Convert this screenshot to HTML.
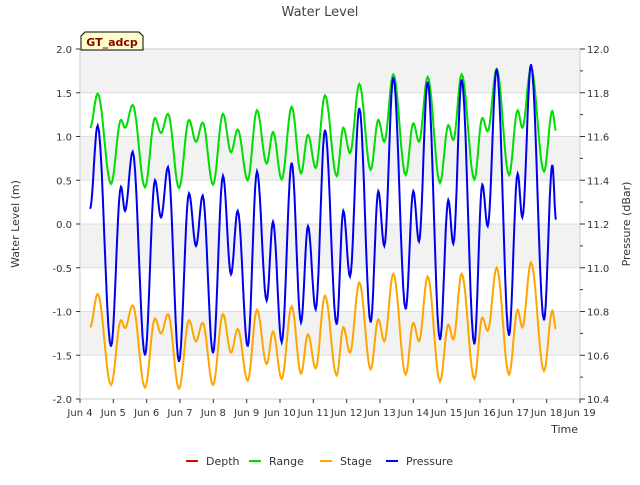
<!DOCTYPE html>
<html><head><meta charset="utf-8"><style>
body{margin:0;background:#fff;font-family:"Liberation Sans","DejaVu Sans",sans-serif}
svg text{font-family:"DejaVu Sans","Liberation Sans",sans-serif}
</style></head><body>
<svg id="chart" width="640" height="480" viewBox="0 0 640 480" xmlns="http://www.w3.org/2000/svg">
<rect x="0" y="0" width="640" height="480" fill="#fff"/>
<g id="bands"></g>
<g id="grid"></g>
<rect x="80" y="49" width="500" height="350" fill="none" stroke="#ccc"/>
<g id="axes"></g>
<g id="series"></g>
<text x="320" y="16" text-anchor="middle" font-size="13" fill="#444">Water Level</text>
<text x="19" y="224" text-anchor="middle" font-size="11" fill="#333" transform="rotate(-90 19 224)">Water Level (m)</text>
<text x="630" y="224" text-anchor="middle" font-size="11" fill="#333" transform="rotate(-90 630 224)">Pressure (dBar)</text>
<text x="578" y="433" text-anchor="end" font-size="11" fill="#333">Time</text>
<g>
<path d="M81 50 L81 36 L85 32 L139 32 L143 36 L143 50 Z" fill="#ffffcc" stroke="#000"/>
<text x="112" y="46" text-anchor="middle" font-size="11" font-weight="bold" fill="#8b0000">GT_adcp</text>
</g>
<g id="legend"></g>
</svg>
<script>
const times=[0.3,0.53,0.93,1.23,1.35,1.58,1.95,2.25,2.43,2.64,2.97,3.27,3.48,3.68,3.99,4.29,4.53,4.73,5.03,5.31,5.6,5.79,6.05,6.35,6.63,6.84,7.07,7.35,7.7,7.9,8.1,8.38,8.72,8.95,9.13,9.4,9.77,10.0,10.17,10.43,10.8,11.05,11.2,11.45,11.83,12.07,12.23,12.5,12.87,13.13,13.27,13.53,13.92,14.17,14.28];
const rangeVals=[1.1,1.49,0.46,1.19,1.1,1.36,0.42,1.21,1.04,1.26,0.41,1.19,0.94,1.16,0.45,1.26,0.82,1.08,0.5,1.3,0.69,1.05,0.51,1.34,0.58,1.02,0.64,1.47,0.55,1.1,0.81,1.6,0.62,1.19,0.94,1.71,0.56,1.15,0.94,1.68,0.47,1.13,0.96,1.71,0.51,1.21,1.06,1.77,0.56,1.3,1.1,1.78,0.6,1.29,1.07];
const stageVals=[-1.18,-0.8,-1.84,-1.1,-1.19,-0.93,-1.87,-1.08,-1.25,-1.03,-1.88,-1.1,-1.34,-1.13,-1.84,-1.03,-1.47,-1.2,-1.79,-0.98,-1.6,-1.23,-1.77,-0.94,-1.71,-1.26,-1.65,-0.82,-1.73,-1.18,-1.47,-0.67,-1.66,-1.09,-1.34,-0.57,-1.72,-1.13,-1.34,-0.6,-1.8,-1.15,-1.32,-0.57,-1.77,-1.07,-1.22,-0.5,-1.72,-0.98,-1.18,-0.44,-1.68,-0.99,-1.2];
const pressureVals=[11.27,11.65,10.64,11.37,11.26,11.53,10.6,11.4,11.23,11.46,10.57,11.34,11.1,11.33,10.61,11.42,10.97,11.26,10.64,11.44,10.85,11.21,10.66,11.48,10.75,11.19,10.81,11.63,10.74,11.26,10.96,11.73,10.75,11.35,11.1,11.87,10.81,11.35,11.12,11.85,10.67,11.31,11.11,11.86,10.65,11.38,11.19,11.91,10.69,11.43,11.23,11.93,10.76,11.47,11.22];
const leftTicks=[2.0,1.5,1.0,0.5,0.0,-0.5,-1.0,-1.5,-2.0];
const rightTicks=[12.0,11.8,11.6,11.4,11.2,11.0,10.8,10.6,10.4];
const xLabels=["Jun 4","Jun 5","Jun 6","Jun 7","Jun 8","Jun 9","Jun 10","Jun 11","Jun 12","Jun 13","Jun 14","Jun 15","Jun 16","Jun 17","Jun 18","Jun 19"];
const NS="http://www.w3.org/2000/svg";
const X0=80,X1=580,Y0=49,Y1=399;
const xs=d=>X0+d*(X1-X0)/15;
const yl=v=>Y0+(2-v)*(Y1-Y0)/4;
const yr=v=>Y0+(12-v)*(Y1-Y0)/1.6;
function mk(tag,attrs,parent){const e=document.createElementNS(NS,tag);for(const k in attrs)e.setAttribute(k,attrs[k]);parent.appendChild(e);return e;}
const bands=document.getElementById('bands'),grid=document.getElementById('grid'),axes=document.getElementById('axes');
for(let i=0;i<leftTicks.length-1;i+=2){
 const b=mk('rect',{x:X0,y:yl(leftTicks[i]),width:X1-X0,height:yl(leftTicks[i+1])-yl(leftTicks[i]),fill:'#f2f2f2'},bands);
 
 
}
leftTicks.forEach(v=>{
 const y=yl(v);
 const g=mk('line',{x1:X0,x2:X1,y1:y,y2:y,stroke:'#ddd'},grid);
 
 
 mk('line',{x1:X0-4,x2:X0,y1:y,y2:y,stroke:'#333'},axes);
 const t=mk('text',{x:X0-8,y:y+4,'text-anchor':'end','font-size':10,fill:'#333'},axes);
 t.textContent=v.toFixed(1);
 
 
});
rightTicks.forEach((v,i)=>{
 const y=yr(v);
 mk('line',{x1:X1,x2:X1+5,y1:y,y2:y,stroke:'#333'},axes);
 if(i<rightTicks.length-1){const ym=(y+yr(rightTicks[i+1]))/2;mk('line',{x1:X1,x2:X1+3,y1:ym,y2:ym,stroke:'#333'},axes);}
 const t=mk('text',{x:X1+7,y:y+4,'font-size':10,fill:'#333'},axes);
 t.textContent=v.toFixed(1);
 
 
});
xLabels.forEach((s,i)=>{
 const x=xs(i);
 mk('line',{x1:x,x2:x,y1:Y1,y2:Y1+4,stroke:'#333'},axes);
 const t=mk('text',{x:x,y:Y1+17,'text-anchor':'middle','font-size':10,fill:'#333'},axes);
 t.textContent=s;
 
 
});
function pathFor(vals,yf){
 let d='';
 for(let i=0;i<times.length;i++){
  const x=xs(times[i]),y=yf(vals[i]);
  if(i===0){d+='M'+x.toFixed(1)+' '+y.toFixed(1);continue;}
  const x0=xs(times[i-1]),y0=yf(vals[i-1]);
  for(let k=1;k<=10;k++){const t=k/10;const s=(1-Math.cos(Math.PI*t))/2;d+=' L'+(x0+(x-x0)*t).toFixed(1)+' '+(y0+(y-y0)*s).toFixed(1);}
 }
 return d;
}
const ser=document.getElementById('series');
const p1=mk('path',{d:pathFor(rangeVals,yl),fill:'none',stroke:'#00dd00','stroke-width':2},ser);


const p2=mk('path',{d:pathFor(stageVals,yl),fill:'none',stroke:'#ffa500','stroke-width':2},ser);


const p3=mk('path',{d:pathFor(pressureVals,yr),fill:'none',stroke:'#0000ee','stroke-width':2},ser);


const leg=document.getElementById('legend');
[["Depth","#dd0000",186],["Range","#00dd00",249],["Stage","#ffa500",320],["Pressure","#0000ee",386]].forEach(([n,c,x])=>{
 const g=mk('g',{},leg);
 
 
 mk('line',{x1:x,x2:x+12,y1:461,y2:461,stroke:c,'stroke-width':2},g);
 const t=mk('text',{x:x+20,y:465,'font-size':11,fill:'#333'},g);
 t.textContent=n;
});
</script>
</body></html>
